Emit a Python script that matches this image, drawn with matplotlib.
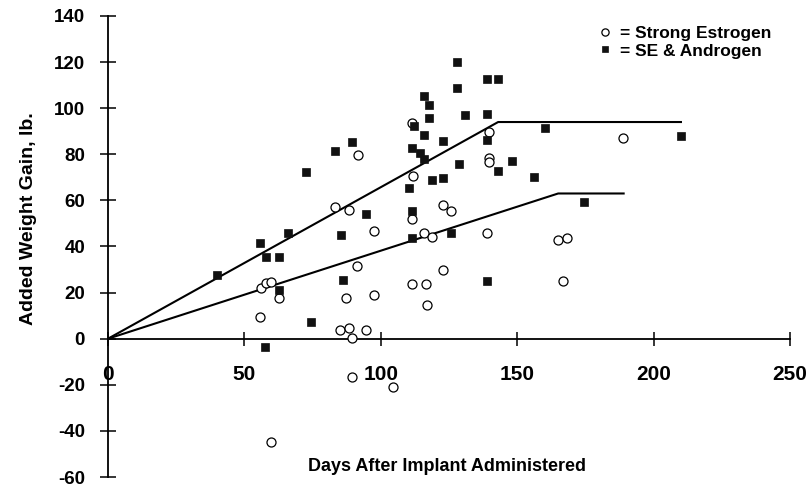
import matplotlib
matplotlib.use("Agg")
import matplotlib.pyplot as plt

plt.rcParams['font.family'] = ['Liberation Sans', 'DejaVu Sans']
plt.rcParams['axes.unicode_minus'] = False

# Strong Estrogen (open circles)
se_days = [59.8, 55.8, 56, 57.8, 59.7, 62.7, 83.2, 88.4, 91.5, 91.2, 87.3, 97.4, 97.4,
           85.2, 88.4, 89.3, 94.5, 89.3, 104.6, 111.6, 111.7, 111.5, 111.6, 115.7, 118.7,
           116.7, 116.8, 122.9, 125.7, 122.8, 138.9, 139.8, 139.7, 139.7, 164.9, 168.2,
           166.9, 188.9]
se_gain = [-45, 9.5, 21.8, 24.1, 24.8, 17.6, 57, 55.8, 79.8, 31.7, 17.7, 46.8, 18.8,
           3.6, 4.8, 0.3, 3.6, -16.6, -20.8, 93.7, 70.6, 51.8, 23.9, 46, 44,
           23.8, 14.6, 58, 55.4, 29.6, 45.7, 89.6, 78.3, 76.8, 42.7, 43.8,
           25, 86.9]

# SE & Androgen (filled squares)
sea_days = [40, 55.6, 58, 62.7, 62.7, 57.7, 65.8, 72.4, 74.4, 83.3, 85.3, 86.2, 89.3,
            94.5, 110.5, 112, 111.6, 111.6, 111.4, 114.4, 115.9, 116, 116, 117.7, 117.7,
            118.8, 122.9, 122.7, 125.6, 128, 127.8, 128.7, 130.9, 138.9, 142.9, 138.9,
            138.9, 138.8, 142.9, 148, 156.1, 160, 174.3, 210]
sea_gain = [27.5, 41.5, 35.5, 35.4, 21.3, -3.4, 46, 72.2, 7.1, 81.5, 45, 25.3, 85.5,
            54.2, 65.3, 92.3, 82.6, 55.4, 43.9, 80.4, 105.5, 77.8, 88.2, 101.4, 95.7,
            68.9, 69.9, 85.7, 45.7, 120.2, 108.7, 75.6, 97.1, 112.6, 112.8, 97.3,
            86.1, 25.1, 72.8, 76.9, 70, 91.2, 59.3, 88]

# fitted plateau lines
se_line_days = [0, 165, 189]
se_line_gain = [0, 63, 63]
sea_line_days = [0, 143, 210]
sea_line_gain = [0, 94, 94]

x_ticks = [0, 50, 100, 150, 200, 250]
y_ticks = [-60, -40, -20, 0, 20, 40, 60, 80, 100, 120, 140]

fig = plt.figure(figsize=(8.12, 4.86), dpi=100)
ax = fig.add_axes([0.133, 0.0185, 0.840, 0.9486])

ax.plot(sea_line_days, sea_line_gain, color='black', lw=1.5, zorder=2)
ax.plot(se_line_days, se_line_gain, color='black', lw=1.5, zorder=2)

ax.plot(se_days, se_gain, 'o', ms=6.5, mfc='white', mec='black', mew=0.9,
        ls='none', zorder=3, label='= Strong Estrogen')
ax.plot(sea_days, sea_gain, 's', ms=5.3, mfc='#111111', mec='#111111', mew=0.5,
        ls='none', zorder=4, label='= SE & Androgen')

ax.set_xlim(0, 250)
ax.set_ylim(-60, 140)
ax.set_xticks(x_ticks)
ax.set_yticks(y_ticks)

for s in ['top', 'right']:
    ax.spines[s].set_visible(False)
ax.spines['left'].set_position(('data', 0))
ax.spines['bottom'].set_position(('data', 0))
ax.spines['left'].set_linewidth(1.3)
ax.spines['bottom'].set_linewidth(1.3)

ax.tick_params(axis='x', direction='inout', length=9.5, width=1.1, pad=14,
               labelsize=15)
ax.tick_params(axis='y', direction='inout', length=12, width=1.1, pad=10.5,
               labelsize=13.5)
for lab in ax.get_xticklabels() + ax.get_yticklabels():
    lab.set_fontweight('bold')

ax.set_xlabel('Days After Implant Administered', fontsize=13, fontweight='bold')
ax.xaxis.set_label_coords(0.497, 0.041)
ax.set_ylabel('Added Weight Gain, lb.', fontsize=14, fontweight='bold')
ax.yaxis.set_label_coords(-0.104, 0.56)

leg = ax.legend(loc='upper left', bbox_to_anchor=(0.717, 0.978), frameon=False,
                borderpad=0, borderaxespad=0, handlelength=0.9, handletextpad=0.45,
                labelspacing=0.12, markerscale=0.8,
                prop={'size': 12.5, 'weight': 'bold'})

fig.savefig('out.png', dpi=100)
